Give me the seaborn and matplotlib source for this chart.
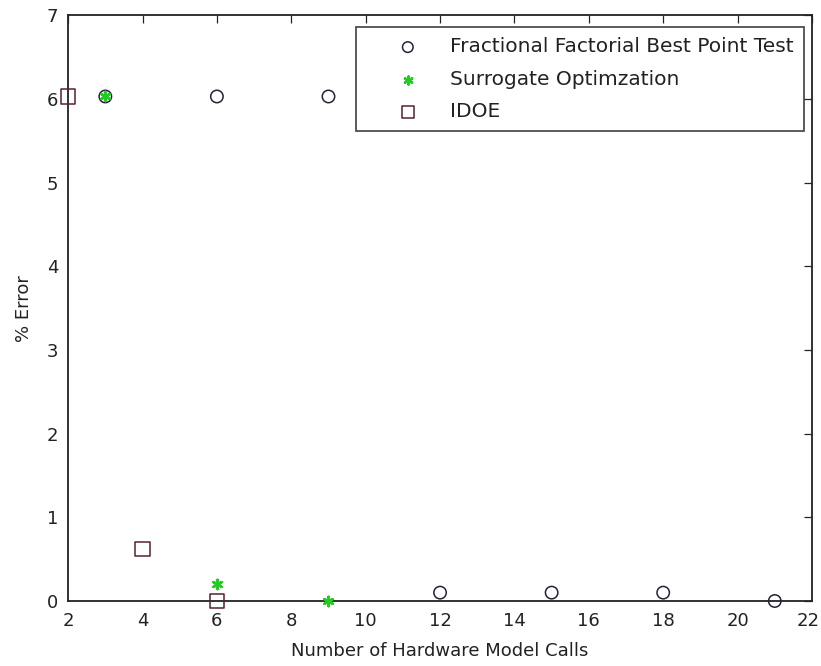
import matplotlib
matplotlib.use("Agg")
import matplotlib.pyplot as plt
import matplotlib.transforms as mtransforms
import seaborn as sns

sns.set_style("white")
plt.rcParams['font.family'] = ['DejaVu Sans']

ff_x = [3, 6, 9, 12, 15, 18, 21]
ff_y = [6.03, 6.03, 6.03, 0.1, 0.1, 0.1, 0.0]
so_x = [3, 6, 9]
so_y = [6.03, 0.2, 0.0]
idoe_x = [2, 4, 6]
idoe_y = [6.03, 0.62, 0.0]

labels = ["Fractional Factorial Best Point Test", "Surrogate Optimzation", "IDOE"]

FS = 13
LFS = 14.5

fig = plt.figure(figsize=(8.21, 6.66), dpi=100)
ax = fig.add_axes([0.083, 0.0976, 0.906, 0.8794])

sns.scatterplot(x=ff_x, y=ff_y, ax=ax, marker='o', s=80, facecolor='none',
                edgecolor='#22223a', linewidth=1.1, label=labels[0], zorder=3,
                clip_on=False)
sns.scatterplot(x=so_x, y=so_y, ax=ax, marker=(6, 2, 0), s=45, color='#22cc22',
                edgecolor='#22cc22', linewidth=1.8, label=labels[1], zorder=4,
                clip_on=False)
sns.scatterplot(x=idoe_x, y=idoe_y, ax=ax, marker='s', s=110, facecolor='none',
                edgecolor='#5a1f33', linewidth=1.1, label=labels[2], zorder=3,
                clip_on=False)

ax.set_xlim(2, 22)
ax.set_ylim(0, 7)
ax.set_xticks(range(2, 23, 2))
ax.set_yticks(range(0, 8))
ax.tick_params(direction='in', top=True, right=True, length=6, width=0.9,
               labelsize=FS, labelcolor='#222222')
ax.tick_params(axis='x', pad=8)
ax.tick_params(axis='y', pad=7)
for sp in ax.spines.values():
    sp.set_visible(True)
    sp.set_color('#222222')
    sp.set_linewidth(1.3)
ax.set_xlabel("Number of Hardware Model Calls", fontsize=FS, labelpad=8.5,
              color='#222222')
ax.set_ylabel("% Error", fontsize=FS, labelpad=10, color='#222222')

# nudge the last x tick label so it stays inside the figure
last = ax.get_xticklabels()[-1]
last.set_transform(last.get_transform() +
                   mtransforms.ScaledTranslation(-4 / 100, 0, fig.dpi_scale_trans))

leg = ax.legend(loc='upper right', bbox_to_anchor=(0.989, 0.9795), fontsize=LFS,
                frameon=True, fancybox=False, edgecolor='#222222', borderpad=0.5,
                handlelength=4.1, handletextpad=0.05, labelspacing=0.67,
                borderaxespad=0.0, markerscale=0.85)
leg.get_frame().set_linewidth(1.3)
for t in leg.get_texts():
    t.set_color('#222222')

fig.savefig("out.png", dpi=100, facecolor='white')
